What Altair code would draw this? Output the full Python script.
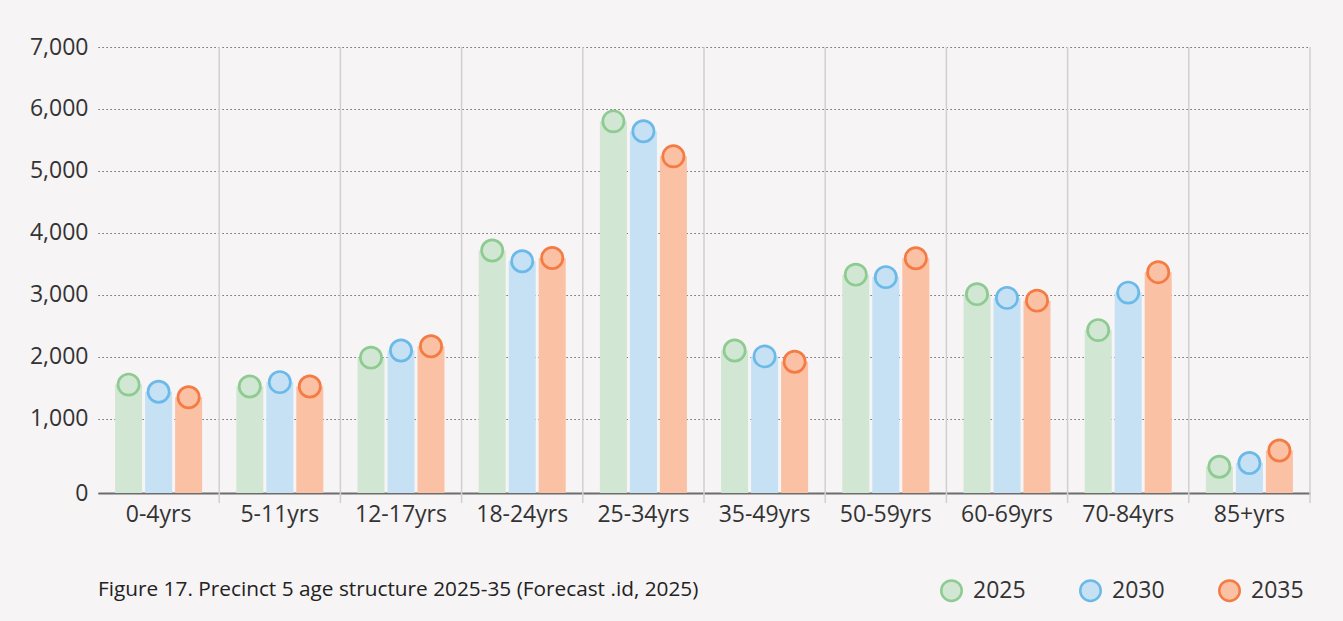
import altair as alt
import pandas as pd

# Age groups and forecast populations per year
ages = ["0-4yrs", "5-11yrs", "12-17yrs", "18-24yrs", "25-34yrs",
        "35-49yrs", "50-59yrs", "60-69yrs", "70-84yrs", "85+yrs"]
years = ["2025", "2030", "2035"]
pop_2025 = [1550, 1520, 1985, 3715, 5800, 2100, 3325, 3010, 2430, 225]
pop_2030 = [1435, 1590, 2100, 3540, 5640, 2005, 3285, 2950, 3035, 285]
pop_2035 = [1345, 1520, 2170, 3595, 5235, 1920, 3590, 2905, 3365, 485]

y_ticks = [-200, 1000, 2000, 3000, 4000, 5000, 6000, 7000]
caption = "Figure 17. Precinct 5 age structure 2025-35 (Forecast .id, 2025)"

bar_fill = ["#d2e7d3", "#c6e1f4", "#fbc1a4"]
ring_stroke = ["#8dcb90", "#6bb9e9", "#f47b43"]

rows = []
for year, series in zip(years, [pop_2025, pop_2030, pop_2035]):
    for age, v in zip(ages, series):
        rows.append({"age": age, "year": year, "population": v})
df = pd.DataFrame(rows)
sep_df = pd.DataFrame({"age": ages})
cap_df = pd.DataFrame({"caption": [caption]})

FONT = "Open Sans"
W, H = 1212, 446
PAD_IN = 0.282

x_enc = alt.X("age:N", sort=ages,
              scale=alt.Scale(paddingInner=PAD_IN, paddingOuter=PAD_IN / 2),
              axis=alt.Axis(title=None, labelAngle=0, labelAlign="center",
                            labelBaseline="top", ticks=False, grid=False,
                            domainColor="#6d6d6d", domainWidth=2,
                            labelFont=FONT, labelFontSize=23,
                            labelColor="#333333", labelPadding=10))
xoff_enc = alt.XOffset("year:N", sort=years,
                       scale=alt.Scale(paddingInner=0.1, paddingOuter=0))
y_scale = alt.Scale(domain=[-200, 7000], nice=False, zero=False)
y_enc = alt.Y("population:Q", scale=y_scale,
              axis=alt.Axis(title=None, values=y_ticks,
                            labelExpr="datum.value < 0 ? '0' : format(datum.value, ',')",
                            grid=True, gridDash=[1.2, 2.8], gridColor="#4a4a4a",
                            gridWidth=1, domain=False, ticks=False,
                            labelFont=FONT, labelFontSize=23,
                            labelColor="#333333", labelPadding=10))

legend = alt.Legend(title=None, orient="none", legendX=842, legendY=532,
                    direction="horizontal", symbolType="circle",
                    symbolSize=420, symbolStrokeWidth=2.5,
                    labelFont=FONT, labelFontSize=23, labelColor="#333333",
                    labelOffset=10, columnPadding=49, padding=0)
fill_scale = alt.Scale(domain=years, range=bar_fill)
stroke_scale = alt.Scale(domain=years, range=ring_stroke)

base = alt.Chart(df)

bars = base.mark_bar(opacity=1).encode(
    x=x_enc,
    xOffset=xoff_enc,
    y=y_enc,
    y2=alt.datum(-200),
    fill=alt.Fill("year:N", sort=years, scale=fill_scale, legend=legend),
)

rings = base.mark_point(shape="circle", filled=True, size=450,
                        strokeWidth=2.7, opacity=1).encode(
    x=alt.X("age:N", sort=ages),
    xOffset=alt.XOffset("year:N", sort=years),
    y=alt.Y("population:Q"),
    fill=alt.Fill("year:N", sort=years, scale=fill_scale, legend=legend),
    stroke=alt.Stroke("year:N", sort=years, scale=stroke_scale, legend=legend),
)

# Separators sit midway between neighbouring age groups (half a step right of each centre)
half_step = W / len(ages) / 2
separators = alt.Chart(sep_df).mark_rule(
    color="#d3cfcf", strokeWidth=1.5, xOffset=half_step
).encode(
    x=alt.X("age:N", sort=ages),
    y=alt.value(0),
    y2=alt.value(H + 10),
)

caption_text = alt.Chart(cap_df).mark_text(
    align="left", baseline="alphabetic", font=FONT, fontSize=20.8, color="#222222"
).encode(text="caption:N", x=alt.value(0), y=alt.value(549))

chart = alt.layer(separators, bars, rings, caption_text).properties(
    width=W, height=H,
    padding={"left": 98, "top": 47, "right": 33, "bottom": 128},
    autosize=alt.AutoSizeParams(type="none"),
    background="#f6f4f5",
).configure_view(strokeWidth=0)

chart.save("out.html", embed_options={"renderer": "svg", "actions": False})
